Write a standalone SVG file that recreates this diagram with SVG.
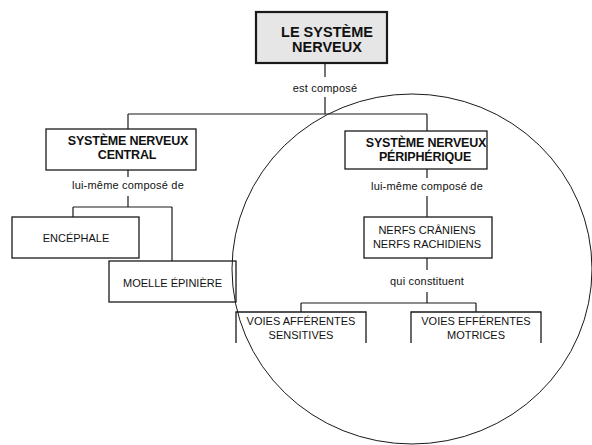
<svg xmlns="http://www.w3.org/2000/svg" width="592" height="445" viewBox="0 0 592 445">
  <style>
    .box { fill: #ffffff; stroke: #1a1a1a; stroke-width: 1.3; }
    .root { fill: #e6e6e6; stroke: #1a1a1a; stroke-width: 2.2; }
    .line { fill: none; stroke: #1a1a1a; stroke-width: 1.2; }
    .title { font-family: "Liberation Sans", Arial, sans-serif; font-weight: bold; font-size: 14.5px; fill: #111; text-anchor: middle; }
    .head { font-family: "Liberation Sans", Arial, sans-serif; font-weight: bold; font-size: 12.5px; letter-spacing: -0.2px; fill: #111; text-anchor: middle; }
    .txt { font-family: "Liberation Sans", Arial, sans-serif; font-size: 11px; fill: #111; text-anchor: middle; }
    .lbl { font-family: "Liberation Sans", Arial, sans-serif; font-size: 11px; letter-spacing: 0.2px; fill: #111; text-anchor: middle; }
  </style>
  <rect width="592" height="445" fill="#ffffff"/>

  <!-- connectors -->
  <g id="connectors">
    <path class="line" d="M325 63V77M325 97V114M128 114H427M128 114V129M427 114V131"/>
    <path class="line" d="M128 170V177M128 196V207M73 207H172M73 207V217M172 207V261"/>
    <path class="line" d="M427 169V178M427 196V217"/>
    <path class="line" d="M427 258V270M427 292V303M301 303H476M301 303V312M476 303V312"/>
    <text class="lbl" x="325" y="92">est composé</text>
    <text class="lbl" x="128" y="189">lui-même composé de</text>
    <text class="lbl" x="427" y="190">lui-même composé de</text>
    <text class="lbl" x="427" y="285">qui constituent</text>
  </g>

  <g id="le-systeme-nerveux">
    <rect class="root" x="256" y="12" width="131" height="51"/>
    <text class="title" x="327" y="37">LE SYSTÈME</text>
    <text class="title" x="327" y="52">NERVEUX</text>
  </g>

  <g id="snc">
    <rect class="box" x="46" y="129" width="150" height="41"/>
    <text class="head" x="128" y="145">SYSTÈME NERVEUX</text>
    <text class="head" x="127" y="159">CENTRAL</text>
  </g>

  <g id="snp">
    <rect class="box" x="345" y="131" width="142" height="38"/>
    <text class="head" x="426" y="146.5">SYSTÈME NERVEUX</text>
    <text class="head" x="425" y="160.5">PÉRIPHÉRIQUE</text>
  </g>

  <g id="encephale">
    <rect class="box" x="12" y="217" width="127" height="41"/>
    <text class="txt" x="76" y="241.5">ENCÉPHALE</text>
  </g>

  <g id="moelle">
    <rect class="box" x="109" y="261" width="127" height="41"/>
    <text class="txt" x="172.5" y="286.5">MOELLE ÉPINIÈRE</text>
  </g>

  <g id="nerfs">
    <rect class="box" x="364" y="217" width="128" height="41"/>
    <text class="txt" x="427" y="233.5">NERFS CRÂNIENS</text>
    <text class="txt" x="427" y="247.5">NERFS RACHIDIENS</text>
  </g>

  <!-- bottom boxes have no lower edge -->
  <g id="voies-afferentes">
    <path class="box" d="M236 343V312H366V343"/>
    <text class="txt" x="301" y="325">VOIES AFFÉRENTES</text>
    <text class="txt" x="301" y="339">SENSITIVES</text>
  </g>

  <g id="voies-efferentes">
    <path class="box" d="M411 343V312H541V343"/>
    <text class="txt" x="476" y="325">VOIES EFFÉRENTES</text>
    <text class="txt" x="476" y="339">MOTRICES</text>
  </g>

  <!-- outline around the peripheral branch -->
  <g id="peripheral-outline">
    <ellipse cx="412" cy="269" rx="180" ry="175" fill="none" stroke="#1a1a1a" stroke-width="1"/>
  </g>
</svg>
